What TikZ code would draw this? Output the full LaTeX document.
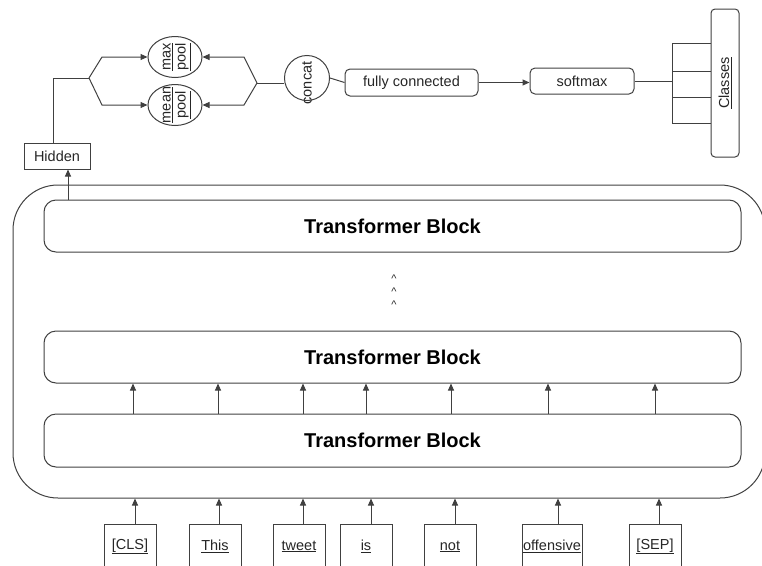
\documentclass[tikz,border=0pt]{standalone}
\usepackage{fontspec}
\setmainfont{Liberation Sans}
\usetikzlibrary{arrows.meta,shapes.geometric}
\definecolor{lc}{HTML}{404040}
\definecolor{tc}{HTML}{262626}
\tikzset{
  ln/.style={draw=lc, line width=1pt},
  arr/.style={ln, -{Triangle[length=7pt,width=6pt]}},
  box/.style={draw=lc, line width=1pt, inner sep=0pt, text=tc, font=\fontsize{14.5}{17}\selectfont},
  rbox/.style={box, rounded corners=5pt},
  blk/.style={box, rounded corners=12pt, minimum width=697pt, text=black, font=\fontsize{20}{24}\selectfont\bfseries},
  tok/.style={box, anchor=north, minimum height=44pt, minimum width=52pt},
  pool/.style={box, ellipse, minimum width=54pt, minimum height=41pt},
  cell/.style={box, minimum width=40pt, line width=0.8pt},
  dotm/.style={inner sep=0pt, text=tc, font=\fontsize{11}{12}\selectfont},
}
\begin{document}
\begin{tikzpicture}[x=1pt,y=-1pt]
\useasboundingbox (0,0) rectangle (762,565);
% outer container
\node[box, rounded corners=45pt, minimum width=752pt, minimum height=313pt] (outer) at (389,341.5) {};
% transformer blocks
\node[blk, minimum height=52pt] (tb3) at (392.5,226) {Transformer Block};
\node[blk, minimum height=52pt] (tb2) at (392.5,357) {Transformer Block};
\node[blk, minimum height=53pt] (tb1) at (392.5,440.5) {Transformer Block};
% dots
\node[dotm] (d1) at (394,279) {\textasciicircum};
\node[dotm] (d2) at (394,292) {\textasciicircum};
\node[dotm] (d3) at (394,305) {\textasciicircum};
% arrows between block 1 and 2
\foreach \x in {133,218,303,366,451,548,655}
  \draw[arr] (tb1.north -| \x,0) -- (tb2.south -| \x,0);
% tokens
\node[tok] (t1) at (130,524) {\underline{[CLS]}};
\node[tok] (t2) at (215,524) {\underline{This}};
\node[tok] (t3) at (299,524) {\underline{tweet}};
\node[tok] (t4) at (366,524) {\underline{is}};
\node[tok] (t5) at (450,524) {\underline{not}};
\node[tok, minimum width=60pt] (t6) at (552,524) {\underline{offensive}};
\node[tok] (t7) at (655,524) {\underline{[SEP]}};
\draw[arr] (t1.north -| 135,0) -- (outer.south -| 135,0);
\draw[arr] (t2.north -| 219,0) -- (outer.south -| 219,0);
\draw[arr] (t3.north -| 303,0) -- (outer.south -| 303,0);
\draw[arr] (t4.north -| 371,0) -- (outer.south -| 371,0);
\draw[arr] (t5.north -| 455,0) -- (outer.south -| 455,0);
\draw[arr] (t6.north -| 558,0) -- (outer.south -| 558,0);
\draw[arr] (t7.north -| 659,0) -- (outer.south -| 659,0);
% hidden
\node[box, minimum width=66pt, minimum height=26pt] (hid) at (57,156) {Hidden};
\draw[arr] (tb3.north -| 68,0) -- (hid.south -| 68,0);
% pools
\node[pool, label={center:\rotatebox{90}{\fontsize{14.5}{16}\selectfont\color{tc}\begin{tabular}{@{}c@{}}\underline{max}\\[-1pt]\underline{pool}\end{tabular}}}] (mxp) at (175,57) {};
\node[pool, label={center:\rotatebox{90}{\fontsize{14.5}{16}\selectfont\color{tc}\begin{tabular}{@{}c@{}}\underline{mean}\\[-1pt]\underline{pool}\end{tabular}}}] (mnp) at (175,105) {};
\coordinate (fl) at (89,78);
\coordinate (fr) at (257,83);
\draw[ln] (hid.north -| 53,0) -- (53,78) -- (fl);
\draw[arr] (fl) -- (102,57) -- (mxp.west);
\draw[arr] (fl) -- (102,105) -- (mnp.west);
% concat
\node[box, circle, minimum size=45pt, label={[yshift=-5pt]center:\rotatebox{90}{\fontsize{14.5}{16}\selectfont\color{tc}concat}}] (cc) at (307,78) {};
\draw[ln] (cc.west |- fr) -- (fr);
\draw[arr] (fr) -- (244,57) -- (mxp.east);
\draw[arr] (fr) -- (244,105) -- (mnp.east);
% fc and softmax
\node[rbox, minimum width=133pt, minimum height=27pt] (fc) at (411.5,82.5) {fully connected};
\node[rbox, minimum width=104pt, minimum height=26pt] (sm) at (582,81) {softmax};
\draw[ln] (cc.east) -- (fc.west);
\draw[arr] (fc.east) -- (fc.east -| sm.west);
% classes
\node[cell, minimum height=28pt] (c1) at (692,57) {};
\node[cell, minimum height=26pt] (c2) at (692,84) {};
\node[cell, minimum height=26pt] (c3) at (692,110) {};
\node[box, rounded corners=4pt, minimum width=28pt, minimum height=148pt, fill=white] (cls) at (725,83) {\rotatebox{90}{\underline{Classes}}};
\draw[ln] (sm.east) -- (sm.east -| c2.west);
\end{tikzpicture}
\end{document}
